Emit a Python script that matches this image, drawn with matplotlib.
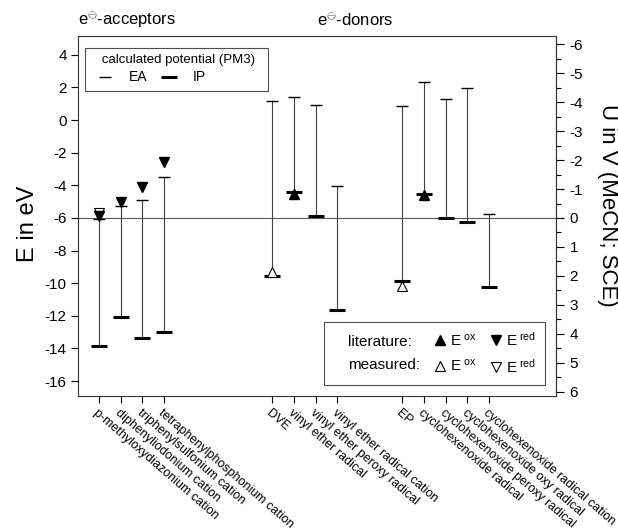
import numpy as np
import matplotlib
matplotlib.use('Agg')
import matplotlib.pyplot as plt
from matplotlib.lines import Line2D
from matplotlib.ticker import MultipleLocator

plt.rcParams['font.family'] = ['Liberation Sans', 'DejaVu Sans']
plt.rcParams['mathtext.fontset'] = 'custom'
plt.rcParams['mathtext.rm'] = 'Liberation Sans'
plt.rcParams['mathtext.it'] = 'Liberation Sans:italic'
plt.rcParams['axes.unicode_minus'] = False

# compounds and their slot on the x axis
compounds = ['p-methyloxydiazonium cation', 'diphenyliodonium cation',
             'triphenylsulfonium cation', 'tetraphenylphosphonium cation',
             'DVE', 'vinyl ether radical', 'vinyl ether peroxy radical',
             'vinyl ether radical cation', 'EP', 'cyclohexenoxide radical',
             'cyclohexenoxide peroxy radical', 'cyclohexenoxide oxy radical',
             'cyclohexenoxide radical cation']
positions = [1, 2, 3, 4, 9, 10, 11, 12, 15, 16, 17, 18, 19]

# calculated potentials (PM3), eV
ea = [-6.05, -5.25, -4.9, -3.5, 1.15, 1.43, 0.9, -4.03, 0.86, 2.35, 1.3, 1.98, -5.75]
ip = [-13.84, -12.08, -13.37, -12.98, -9.55, -4.4, -5.87, -11.65, -9.87, -4.5, -5.98, -6.24, -10.22]

# literature / measured redox potentials (on the eV scale)
lit_red_x = [1, 2, 3, 4]
lit_red = [-5.85, -5.01, -4.12, -2.59]
meas_red_x = [1]
meas_red = [-5.68]
lit_ox_x = [10, 16]
lit_ox = [-4.55, -4.59]
meas_ox_x = [9, 15]
meas_ox = [-9.33, -10.15]

# U (V vs SCE in MeCN) vs E (eV)
k = 0.564
def e_to_u(e):
    return -(np.asarray(e) + 6.0) * k

def u_to_e(u):
    return -np.asarray(u) / k - 6.0


fig = plt.figure(figsize=(6.18, 5.31), dpi=100)
ax = fig.add_axes([0.127, 0.254, 0.773, 0.678])

ax.axhline(-6, color='0.35', lw=0.8, zorder=1)
ax.vlines(positions, ip, ea, color='0.25', lw=0.8, zorder=2)
ax.plot(positions, ea, ls='none', marker='_', ms=8, mew=1.0, color='k', zorder=3)
ax.plot(positions, ip, ls='none', marker='_', ms=12, mew=2.2, color='k', zorder=3)

ax.plot(meas_red_x, meas_red, ls='none', marker='v', ms=7, mfc='white', mec='k', mew=0.8, zorder=4)
ax.plot(meas_ox_x, meas_ox, ls='none', marker='^', ms=7, mfc='white', mec='k', mew=0.8, zorder=4)
ax.plot(lit_red_x, lit_red, ls='none', marker='v', ms=7, color='k', zorder=5)
ax.plot(lit_ox_x, lit_ox, ls='none', marker='^', ms=7, color='k', zorder=5)

ax.set_xlim(0.05, 22.1)
ax.set_ylim(-16.92, 5.15)
ax.set_xticks(positions)
ax.set_yticks(np.arange(-16, 5, 2))
ax.tick_params(direction='out', length=5, width=0.8, colors='k')
ax.tick_params(axis='y', labelsize=11)
ax.tick_params(axis='x', pad=3)
ax.set_xticklabels(compounds, rotation=-41, ha='left', va='top',
                   rotation_mode='anchor', fontsize=9)
for s in ax.spines.values():
    s.set_color('0.2')
    s.set_linewidth(0.8)

secax = ax.secondary_yaxis('right', functions=(e_to_u, u_to_e))
secax.set_yticks(np.arange(-6, 7, 1))
secax.yaxis.set_minor_locator(MultipleLocator(0.5))
secax.tick_params(which='major', direction='out', length=6, width=0.8, labelsize=11)
secax.tick_params(which='minor', direction='out', length=3.5, width=0.8)
secax.spines['right'].set_color('0.2')
secax.spines['right'].set_linewidth(0.8)

ax.set_ylabel('E in eV', fontsize=17)
ax.yaxis.set_label_coords(-0.083, 0.48)
secax.set_ylabel('U in V (MeCN; SCE)', fontsize=16, rotation=270,
                 va='center', ha='center')
secax.yaxis.set_label_coords(1.107, 0.53, transform=ax.transAxes)

ax.text(0.0, 1.044, r'e$^{\ominus}$-acceptors', transform=ax.transAxes,
        fontsize=12, ha='left', va='center')
ax.text(0.499, 1.044, r'e$^{\ominus}$-donors', transform=ax.transAxes,
        fontsize=12, ha='left', va='center')

# legend: calculated potentials
h_ea = Line2D([], [], ls='none', marker='_', ms=8, mew=1.0, color='k')
h_ip = Line2D([], [], ls='none', marker='_', ms=12, mew=2.2, color='k')
leg1 = ax.legend(handles=[h_ea, h_ip], labels=['EA', 'IP'],
                 title='   calculated potential (PM3)  ', ncol=2,
                 loc='upper left', bbox_to_anchor=(0.013, 0.967), borderaxespad=0,
                 fontsize=10, title_fontsize=9.5, fancybox=False, edgecolor='0.3',
                 framealpha=1, handlelength=2.0, handletextpad=0.7,
                 columnspacing=0.6, borderpad=0.45, labelspacing=0.3,
                 alignment='left')
leg1.get_frame().set_linewidth(0.8)
ax.add_artist(leg1)

# legend: literature / measured potentials
blank = Line2D([], [], ls='none', marker='')
f_up = Line2D([], [], ls='none', marker='^', ms=7, color='k')
o_up = Line2D([], [], ls='none', marker='^', ms=7, mfc='white', mec='k', mew=0.8)
f_dn = Line2D([], [], ls='none', marker='v', ms=7, color='k')
o_dn = Line2D([], [], ls='none', marker='v', ms=7, mfc='white', mec='k', mew=0.8)
ox_lbl = r'$\mathrm{E}^{\ \mathrm{ox}}$'
red_lbl = r'$\mathrm{E}^{\ \mathrm{red}}$'
leg2 = ax.legend(handles=[blank, blank, f_up, o_up, f_dn, o_dn],
                 labels=['literature:', 'measured:', ox_lbl, ox_lbl, red_lbl, red_lbl],
                 ncol=3, loc='lower right', bbox_to_anchor=(0.977, 0.031),
                 borderaxespad=0, fontsize=11, fancybox=False, edgecolor='0.3',
                 framealpha=1, handlelength=0.7, handletextpad=0.3,
                 columnspacing=0.95, labelspacing=0.6, borderpad=0.6)
leg2.get_frame().set_linewidth(0.8)

fig.savefig('out.png', dpi=100)
